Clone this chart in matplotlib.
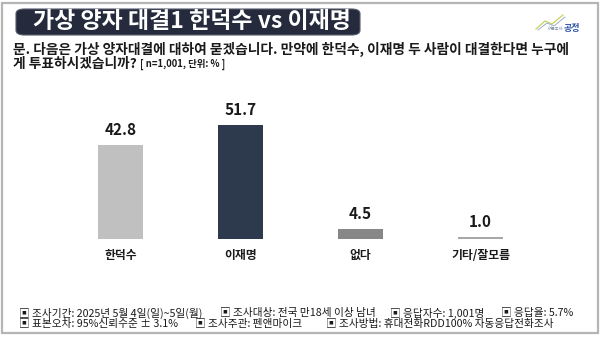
import matplotlib.pyplot as plt
from matplotlib.patches import FancyBboxPatch, Rectangle

plt.rcParams['font.family'] = ['Noto Sans CJK KR', 'DejaVu Sans']

categories = ["한덕수", "이재명", "없다", "기타/잘모름"]
values = [42.8, 51.7, 4.5, 1.0]
bar_colors = ["#c0c0c0", "#2d394d", "#878787", "#a8a8a8"]

title = "가상 양자 대결1 한덕수 vs 이재명"
question = ["문. 다음은 가상 양자대결에 대하여 묻겠습니다. 만약에 한덕수, 이재명 두 사람이 대결한다면 누구에",
            "게 투표하시겠습니까?"]
question_note = "[ n=1,001, 단위: % ]"
footer_row1 = ["조사기간: 2025년 5월 4일(일)~5일(월)", "조사대상: 전국 만18세 이상 남녀",
               "응답자수: 1,001명", "응답율: 5.7%"]
footer_row2 = ["표본오차: 95%신뢰수준 ± 3.1%", "조사주관: 펜앤마이크",
               "조사방법: 휴대전화RDD100% 자동응답전화조사"]

W, H = 601, 339
fig = plt.figure(figsize=(W / 100, H / 100), dpi=100)
fig.patch.set_facecolor("white")

def fx(px):
    return px / W

def fy(py):
    return 1 - py / H

# outer frame
fig.add_artist(Rectangle((fx(2), fy(333)), fx(596), 330 / H, transform=fig.transFigure,
                         facecolor="none", edgecolor="#b5b5b5", linewidth=1.6))

# title box
fig.add_artist(FancyBboxPatch((fx(16), fy(35)), fx(344), 26 / H, transform=fig.transFigure,
                              boxstyle="round,pad=0,rounding_size=0.014", facecolor="#252b3d",
                              edgecolor="#555a6a", linewidth=0.8))
fig.text(fx(192), fy(22), title, color="white", fontsize=16.5, fontweight="bold",
         ha="center", va="center")

# logo
fig.add_artist(plt.Line2D([fx(536), fx(545), fx(552), fx(563)],
                          [fy(29), fy(21), fy(24), fy(15)], transform=fig.transFigure,
                          color="#c7d35a", linewidth=0.9))
fig.add_artist(plt.Line2D([fx(538), fx(547), fx(554), fx(565)],
                          [fy(30), fy(23), fy(26), fy(17)], transform=fig.transFigure,
                          color="#8fa5c8", linewidth=0.6))
fig.text(fx(563), fy(29), "여론조사", fontsize=3, color="#7a8aa8", ha="right", va="center")
fig.text(fx(564), fy(29), "공정", fontsize=6.5, color="#2f54a8", fontweight="bold",
         ha="left", va="center")

# question text
fig.text(fx(13), fy(49), question[0], fontsize=9.9, fontweight="bold", color="#1a1a1a",
         ha="left", va="center")
q2 = fig.text(fx(13), fy(64), question[1], fontsize=9.9, fontweight="bold", color="#1a1a1a",
              ha="left", va="center")
renderer = fig.canvas.get_renderer()
q2_end = q2.get_window_extent(renderer).x1
fig.text(q2_end / W + fx(3), fy(64), question_note, fontsize=6.8, fontweight="bold",
         color="#1a1a1a", ha="left", va="center")

# bars
ax = fig.add_axes([fx(60.5), fy(239), fx(480), 132 / H])
x = range(len(categories))
ax.bar(x, values, width=0.38, color=bar_colors, edgecolor="none")
ax.set_xlim(-0.5, 3.5)
ax.set_ylim(0, 60)
ax.axis("off")
for i, v in zip(x, values):
    ax.annotate(f"{v:.1f}", (i, v), xytext=(0, 5), textcoords="offset points",
                ha="center", va="bottom", fontsize=11, fontweight="bold", color="#1a1a1a")
    ax.annotate(categories[i], (i, 0), xytext=(0, -7), textcoords="offset points",
                ha="center", va="top", fontsize=8.5, fontweight="bold", color="#1a1a1a")

# footer
row1_x = [19, 220, 390, 501]
row2_x = [19, 195, 326]
for px, s in zip(row1_x, footer_row1):
    fig.text(fx(px), fy(313), "▣ " + s, fontsize=7.7, color="#1a1a1a", ha="left", va="center")
for px, s in zip(row2_x, footer_row2):
    fig.text(fx(px), fy(323.5), "▣ " + s, fontsize=7.7, color="#1a1a1a", ha="left", va="center")

fig.savefig("out.png", dpi=100)
